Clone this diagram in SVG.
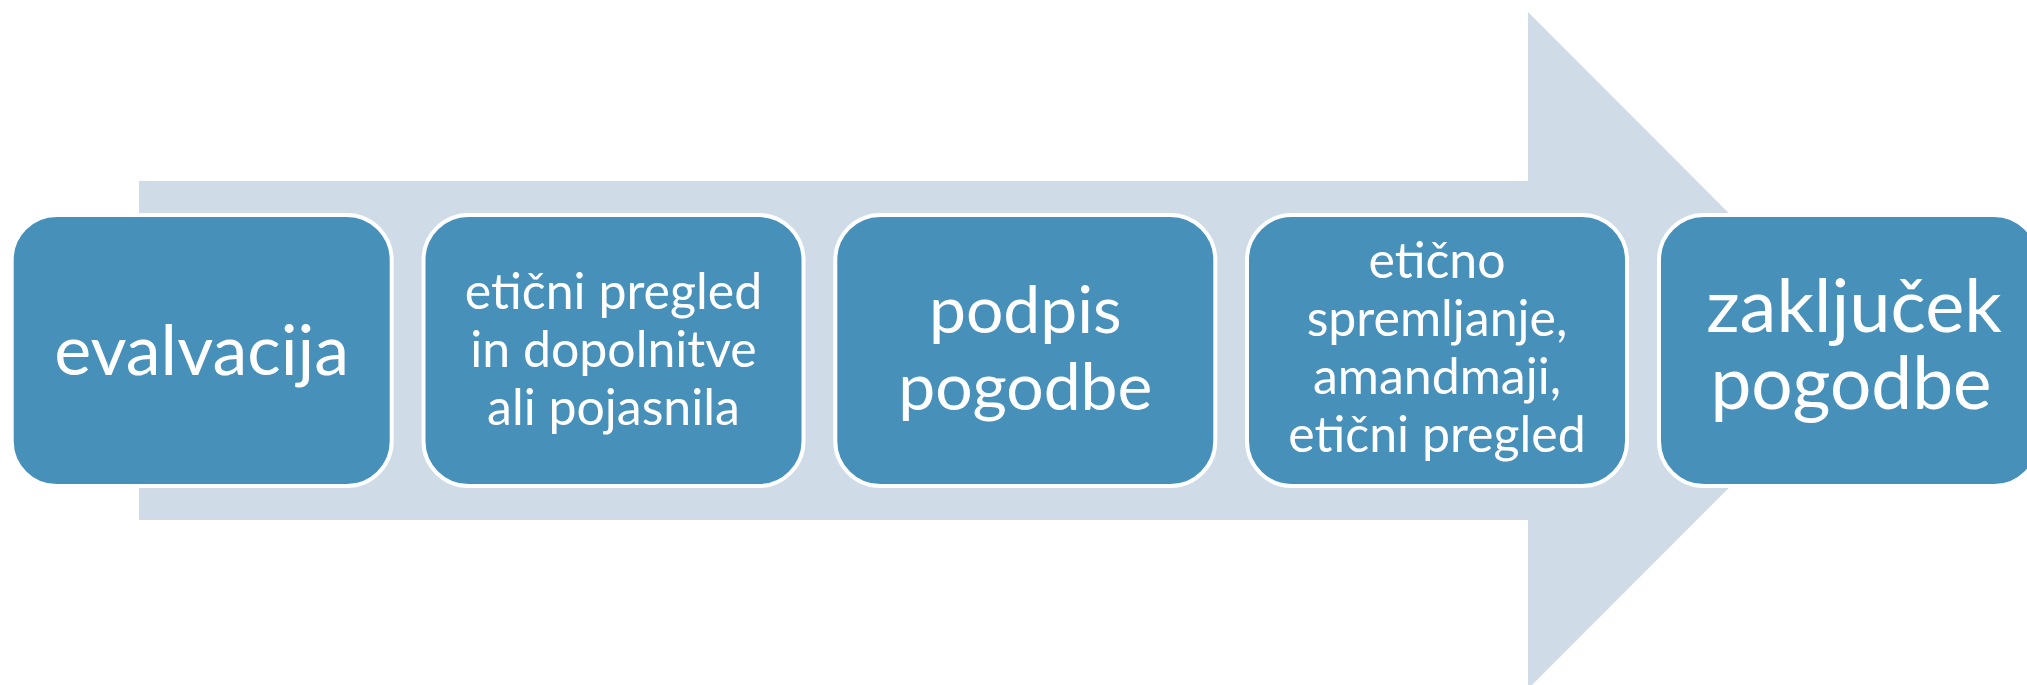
<svg xmlns="http://www.w3.org/2000/svg" width="2027" height="685" viewBox="0 0 2027 685">
  <style>
    .box { fill: #4790BA; stroke: #FFFFFF; stroke-width: 4; }
    .lbl { font-family: Lato, "Open Sans", sans-serif; fill: #FFFFFF; text-anchor: middle; }
    .sm { font-size: 50px; }
  </style>
  <rect width="2027" height="685" fill="#FFFFFF"/>
  <g id="connectors">
    <polygon id="arrow" points="139,181 1528,181 1528,12 1866,350.5 1528,689 1528,520 139,520" fill="#CFDCE7"/>
  </g>
  <g id="node1">
    <rect class="box" x="11.7" y="215" width="380" height="271" rx="45" ry="45"/>
    <text class="lbl" x="201.7" y="375" font-size="70">evalvacija</text>
  </g>
  <g id="node2">
    <rect class="box" x="423.5" y="215" width="380" height="271" rx="45" ry="45"/>
    <text class="lbl sm" x="613.5" y="309">etični pregled</text>
    <text class="lbl sm" x="613.5" y="367">in dopolnitve</text>
    <text class="lbl sm" x="613.5" y="425">ali pojasnila</text>
  </g>
  <g id="node3">
    <rect class="box" x="835.3" y="215" width="380" height="271" rx="45" ry="45"/>
    <text class="lbl" x="1025.3" y="333" font-size="66">podpis</text>
    <text class="lbl" x="1025.3" y="410" font-size="66">pogodbe</text>
  </g>
  <g id="node4">
    <rect class="box" x="1247" y="215" width="380" height="271" rx="45" ry="45"/>
    <text class="lbl sm" x="1437" y="278">etično</text>
    <text class="lbl sm" x="1437" y="336">spremljanje,</text>
    <text class="lbl sm" x="1437" y="394">amandmaji,</text>
    <text class="lbl sm" x="1437" y="452">etični pregled</text>
  </g>
  <g id="node5">
    <rect class="box" x="1659" y="215" width="380" height="271" rx="45" ry="45"/>
    <text class="lbl" x="1854" y="332" font-size="74">zaključek</text>
    <text class="lbl" x="1851" y="409" font-size="73">pogodbe</text>
  </g>
</svg>
